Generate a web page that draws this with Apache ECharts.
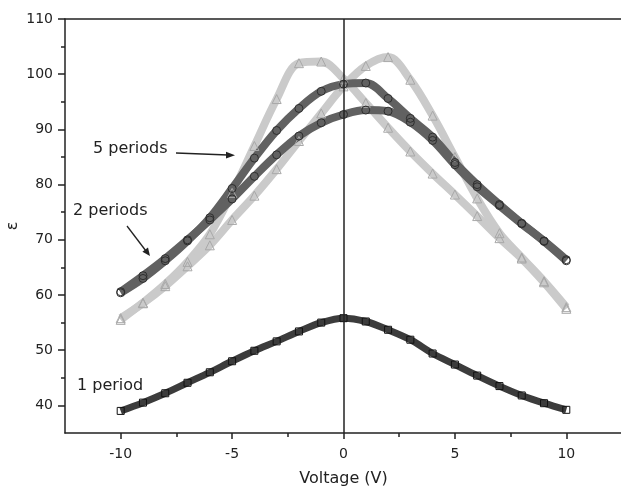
<!DOCTYPE html>
<html>
<head>
<meta charset="utf-8">
<script src="https://cdn.jsdelivr.net/npm/echarts@6/dist/echarts.min.js"></script>
<style>
html,body{margin:0;padding:0;background:#fff;}
#chart{width:621px;height:487px;}
</style>
</head>
<body>
<div id="chart"></div>
<script>
// bias voltage (V), one reading per volt along each sweep
const voltage = [-10,-9,-8,-7,-6,-5,-4,-3,-2,-1,0,1,2,3,4,5,6,7,8,9,10];
// permittivity readings
const onePeriod = [39.0,40.5,42.2,44.1,46.0,48.0,49.9,51.6,53.4,55.0,55.8,55.2,53.7,51.9,49.4,47.4,45.4,43.5,41.8,40.4,39.2];
const twoPeriodsA = [60.4,63.0,66.2,69.8,74.0,79.3,84.8,89.8,93.8,96.9,98.2,98.4,95.6,92.0,88.6,84.0,80.0,76.4,73.0,69.8,66.4];
const twoPeriodsB = [60.6,63.5,66.6,70.0,73.6,77.4,81.5,85.4,88.8,91.2,92.7,93.5,93.3,91.3,88.0,83.6,79.6,76.2,72.9,69.7,66.2];
const fivePeriodsA = [55.5,58.6,62.0,66.0,71.0,78.5,87.0,95.5,102.0,102.3,99.2,94.8,90.3,86.0,82.0,78.2,74.3,70.3,66.6,62.3,57.5];
const fivePeriodsB = [55.8,58.5,61.6,65.2,69.0,73.6,78.0,82.8,87.9,92.9,97.8,101.5,103.1,99.0,92.5,85.0,77.5,71.2,66.8,62.5,57.8];
const xTicks = [-10,-5,0,5,10];
const xMinor = [-7.5,-2.5,2.5,7.5];
const yTicks = [40,50,60,70,80,90,100,110];
const yMinor = [45,55,65,75,85,95,105];

const font = 'DejaVu Sans';
let chart = echarts.init(document.getElementById('chart'));

function band(vals, symbol, size, lineColor, edge, width){
  return {
    type:'line',
    smooth:0.35,
    data:voltage.map((v,i)=>[v,vals[i]]),
    symbol:symbol,
    symbolSize:size,
    showAllSymbol:true,
    lineStyle:{color:lineColor,width:width},
    itemStyle:{color:'rgba(0,0,0,0)',borderColor:edge,borderWidth:1},
    emphasis:{disabled:true}
  };
}

let series = [
  band(fivePeriodsA,'triangle',9,'#cacaca','#a8a8a8',8),
  band(fivePeriodsB,'triangle',9,'#cacaca','#a8a8a8',8),
  band(twoPeriodsA,'circle',8,'#616161','#2e2e2e',8),
  band(twoPeriodsB,'circle',8,'#616161','#2e2e2e',8),
  band(onePeriod,'rect',7,'#3c3c3c','#111',7)
];
series[4].markLine = {
  silent:true,
  symbol:'none',
  label:{show:false},
  lineStyle:{color:'#222',width:1.5,type:'solid'},
  data:[{xAxis:0}]
};

const axisBase = {
  type:'value',
  axisLine:{onZero:false,lineStyle:{color:'#222',width:1.5}},
  splitLine:{show:false}
};

chart.setOption({
  animation:false,
  grid:{left:65,top:19,right:-1,bottom:54,containLabel:false,outerBoundsMode:'none'},
  xAxis:[
    Object.assign({},axisBase,{
      min:-12.5,max:12.5,position:'bottom',
      name:'Voltage (V)',nameLocation:'middle',nameGap:38,
      nameTextStyle:{fontFamily:font,fontSize:16,color:'#222'},
      axisTick:{customValues:xTicks,length:6,lineStyle:{color:'#222',width:1.5}},
      axisLabel:{customValues:xTicks,margin:14,fontFamily:font,fontSize:14,color:'#222'}
    }),
    Object.assign({},axisBase,{
      min:-12.5,max:12.5,position:'bottom',
      axisLine:{show:false,onZero:false},
      axisTick:{customValues:xMinor,length:4,lineStyle:{color:'#222',width:1.5}},
      axisLabel:{show:false}
    }),
    Object.assign({},axisBase,{
      min:-12.5,max:12.5,position:'top',
      axisTick:{show:false},axisLabel:{show:false}
    })
  ],
  yAxis:[
    Object.assign({},axisBase,{
      min:35,max:110,position:'left',
      name:'ε',nameLocation:'middle',nameGap:44,nameRotate:90,nameMoveOverlap:false,
      nameTextStyle:{fontFamily:font,fontSize:16,color:'#222'},
      axisTick:{customValues:yTicks,length:7,lineStyle:{color:'#222',width:1.5}},
      axisLabel:{customValues:yTicks,margin:12,fontFamily:font,fontSize:14,color:'#222'}
    }),
    Object.assign({},axisBase,{
      min:35,max:110,position:'left',
      axisLine:{show:false,onZero:false},
      axisTick:{customValues:yMinor,length:4,lineStyle:{color:'#222',width:1.5}},
      axisLabel:{show:false}
    })
  ],
  series:series,
  graphic:[
    {type:'text',left:93,top:141,style:{text:'5 periods',font:'16px "DejaVu Sans"',fill:'#222'}},
    {type:'line',shape:{x1:176,y1:153,x2:228,y2:155},style:{stroke:'#222',lineWidth:1.3}},
    {type:'polygon',shape:{points:[[235,155.3],[226,151.8],[226,158.6]]},style:{fill:'#222'}},
    {type:'text',left:73,top:203,style:{text:'2 periods',font:'16px "DejaVu Sans"',fill:'#222'}},
    {type:'line',shape:{x1:127,y1:226,x2:146,y2:251},style:{stroke:'#222',lineWidth:1.3}},
    {type:'polygon',shape:{points:[[150,256],[142.4,251.7],[148,247.5]]},style:{fill:'#222'}},
    {type:'text',left:77,top:378,style:{text:'1 period',font:'16px "DejaVu Sans"',fill:'#222'}}
  ]
});
</script>
</body>
</html>
